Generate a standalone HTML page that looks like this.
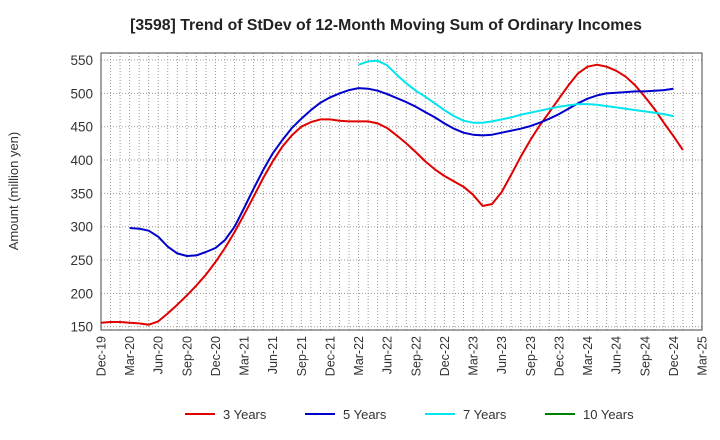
<!DOCTYPE html>
<html><head><meta charset="utf-8"><style>
body{margin:0;background:#fff;font-family:"Liberation Sans",sans-serif;}
svg{display:block}
</style></head><body>
<svg id="chart" width="720" height="440">
<text x="386" y="30" text-anchor="middle" font-size="15.8" font-weight="bold" fill="#222">[3598]  Trend of StDev of 12-Month Moving Sum of Ordinary Incomes</text>
<text transform="translate(18,191) rotate(-90)" text-anchor="middle" font-size="13" fill="#333">Amount (million yen)</text>
<g id="grid"></g><g id="axes"></g><g id="series"></g><g id="legend"></g>
</svg>
<script>
const xLabels=["Dec-19","Mar-20","Jun-20","Sep-20","Dec-20","Mar-21","Jun-21","Sep-21","Dec-21","Mar-22","Jun-22","Sep-22","Dec-22","Mar-23","Jun-23","Sep-23","Dec-23","Mar-24","Jun-24","Sep-24","Dec-24","Mar-25"];
const yTicks=[150,200,250,300,350,400,450,500,550];
const s3Start=0;
const s3=[156,157,157,156,155,153,158,170,183,197,212,228,247,268,292,318,345,373,398,420,437,450,457,461,461,459,458,458,458,455,448,437,425,412,398,386,376,368,360,348,331,334,352,378,405,430,452,472,492,512,530,540,543,540,534,525,512,495,477,456,436,415];
const s5Start=3;
const s5=[298,297,294,285,270,260,256,257,262,268,280,300,328,357,385,410,430,448,462,475,486,494,500,505,508,507,504,499,493,487,480,472,464,455,447,441,438,437,438,441,444,447,451,456,462,469,477,485,492,497,500,501,502,503,503,504,505,507];
const s7Start=27;
const s7=[543,548,549,542,528,515,504,495,485,475,466,459,456,456,458,461,464,468,471,474,477,480,482,484,484,483,481,479,477,475,473,471,469,466];
const L=101,R=702,T=53,B=330,NM=63;
const X=i=>L+i*(R-L)/NM;
const Y=v=>326.7-(v-150)*(33.33/50);
const NS="http://www.w3.org/2000/svg";
function mk(t,a,p){const e=document.createElementNS(NS,t);for(const k in a)e.setAttribute(k,a[k]);p.appendChild(e);return e;}
const grid=document.getElementById('grid'),axes=document.getElementById('axes'),ser=document.getElementById('series'),leg=document.getElementById('legend');
for(let i=1;i<NM;i++){const l=mk('line',{x1:X(i),x2:X(i),y1:T,y2:B,stroke:'#999','stroke-width':1,'stroke-dasharray':'1,2'},grid);

}
yTicks.forEach(v=>{const l=mk('line',{x1:L,x2:R,y1:Y(v),y2:Y(v),stroke:'#999','stroke-width':1,'stroke-dasharray':'1,2'},grid);


const t=mk('text',{x:L-8,y:Y(v)+5,'text-anchor':'end','font-size':13.5,fill:'#333'},axes);t.textContent=v;

});
const fr=mk('rect',{x:L,y:T,width:R-L,height:B-T,fill:'none',stroke:'#444','stroke-width':1},axes);


xLabels.forEach((s,k)=>{const x=X(k*3);const t=mk('text',{transform:`translate(${x+4.5},${B+6}) rotate(-90)`,'text-anchor':'end','font-size':12.5,fill:'#333'},axes);t.textContent=s;

});
function line(arr,st,c,name){const d=arr.map((v,i)=>(i?'L':'M')+X(st+i).toFixed(1)+','+Y(v).toFixed(1)).join('');
const p=mk('path',{d:d,fill:'none',stroke:c,'stroke-width':2,'stroke-linejoin':'round'},ser);

}
line(s3,s3Start,'#e00000','line-3-years');
line(s5,s5Start,'#0000cc','line-5-years');
line(s7,s7Start,'#00e5ee','line-7-years');
const lg=[["3 Years","#e00000",185],["5 Years","#0000cc",305],["7 Years","#00e5ee",425],["10 Years","#008000",545]];
lg.forEach(([n,c,x])=>{const g=mk('g',{},leg);


mk('line',{x1:x,x2:x+30,y1:414,y2:414,stroke:c,'stroke-width':2},g);
const t=mk('text',{x:x+38,y:419,'font-size':13,fill:'#333'},g);t.textContent=n;});
</script>
</body></html>
